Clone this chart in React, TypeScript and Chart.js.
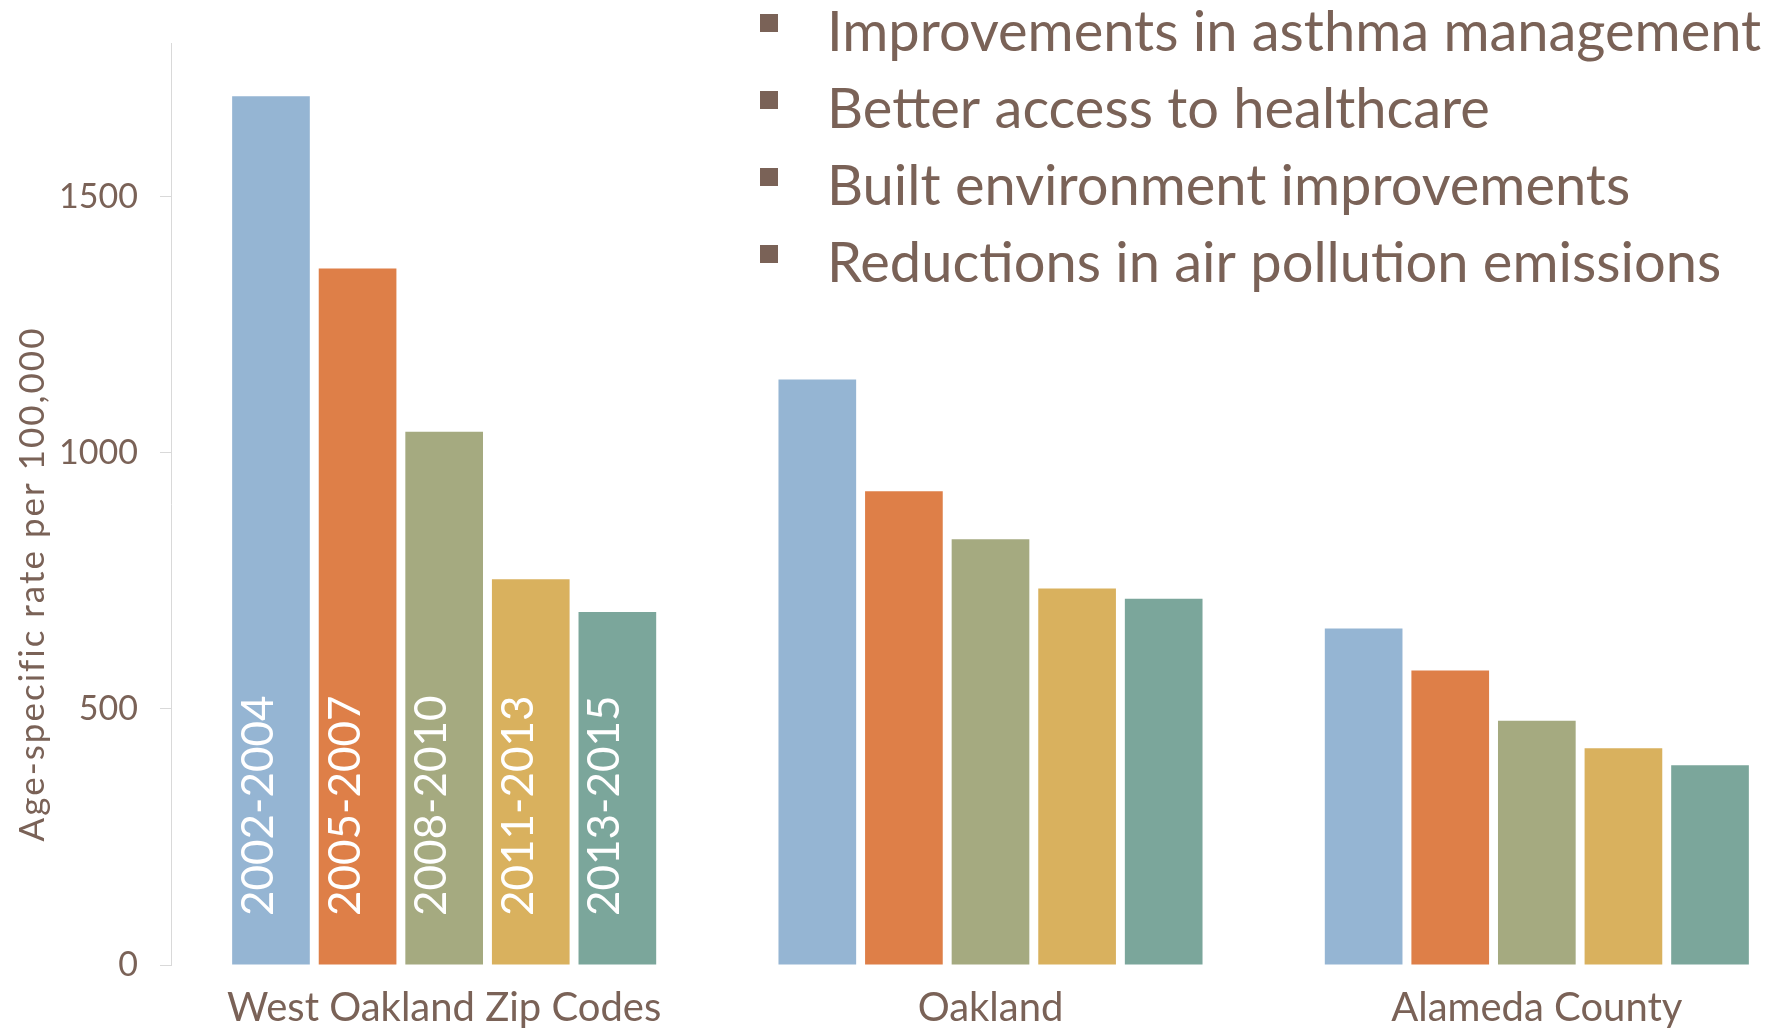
import React, { useEffect, useRef } from "react";
import { Chart, registerables } from "chart.js";

Chart.register(...registerables);

const categories = ["West Oakland Zip Codes", "Oakland", "Alameda County"];
const periods = ["2002-2004", "2005-2007", "2008-2010", "2011-2013", "2013-2015"];
const rates2002_2004 = [1696, 1143, 657];
const rates2005_2007 = [1360, 925, 575];
const rates2008_2010 = [1041, 831, 477];
const rates2011_2013 = [753, 735, 423];
const rates2013_2015 = [689, 715, 390];
const yTickValues = [0, 500, 1000, 1500];
const yMax = 1800;
const yTitle = "Age-specific rate per 100,000";
const bulletPoints = [
  "Improvements in asthma management",
  "Better access to healthcare",
  "Built environment improvements",
  "Reductions in air pollution emissions",
];

const seriesValues = [rates2002_2004, rates2005_2007, rates2008_2010, rates2011_2013, rates2013_2015];
const barColors = ["#95B5D3", "#DE7F48", "#A5AA80", "#D9B15E", "#7BA69B"];
const textColor = "#7A6257";
const FONT = "Lato, 'Open Sans', sans-serif";

const customText = {
  id: "customText",
  afterDatasetsDraw(chart: any) {
    const ctx = chart.ctx as any;
    const area = chart.chartArea;
    // period labels inside first group bars
    chart.data.datasets.forEach((ds: any, i: number) => {
      const bar = chart.getDatasetMeta(i).data[0];
      if (!bar) return;
      ctx.save();
      ctx.translate(bar.x + 2, area.bottom - 49);
      ctx.rotate(-Math.PI / 2);
      ctx.fillStyle = "#FFFFFF";
      ctx.font = `44px ${FONT}`;
      ctx.textAlign = "left";
      ctx.textBaseline = "alphabetic";
      ctx.fillText(ds.label, 0, 0);
      ctx.restore();
    });
    // y axis title
    ctx.save();
    ctx.translate(44, 584);
    ctx.rotate(-Math.PI / 2);
    ctx.fillStyle = textColor;
    ctx.font = `35px ${FONT}`;
    ctx.letterSpacing = "2px";
    ctx.textAlign = "center";
    ctx.textBaseline = "alphabetic";
    ctx.fillText(yTitle, 0, 0);
    ctx.restore();
    // bullet list
    ctx.save();
    ctx.fillStyle = textColor;
    ctx.font = `56px ${FONT}`;
    ctx.textAlign = "left";
    ctx.textBaseline = "alphabetic";
    bulletPoints.forEach((t, i) => {
      const base = 51 + i * 77;
      ctx.fillRect(760, base - 37, 18, 18);
      ctx.fillText(t, 827, base);
    });
    ctx.restore();
  },
};

export default function App() {
  const ref = useRef<HTMLCanvasElement | null>(null);
  useEffect(() => {
    if (!ref.current) return;
    const chart = new Chart(ref.current, {
      type: "bar",
      data: {
        labels: categories,
        datasets: periods.map((p, i) => ({
          label: p,
          data: seriesValues[i],
          backgroundColor: barColors[i],
          borderWidth: 0,
          categoryPercentage: 0.7925,
          barPercentage: 0.897,
        })),
      },
      options: {
        animation: false,
        responsive: true,
        maintainAspectRatio: false,
        layout: { padding: { top: 43, right: 20, left: 0, bottom: 0 } },
        plugins: {
          legend: { display: false },
          tooltip: { enabled: false },
          title: { display: false },
        },
        scales: {
          x: {
            type: "category",
            grid: { display: false, drawTicks: false },
            border: { display: false },
            ticks: {
              color: textColor,
              font: { family: FONT, size: 40 },
              padding: 19,
              maxRotation: 0,
              autoSkip: false,
            },
            afterFit: (s: any) => {
              s.height = 67;
            },
          },
          y: {
            min: 0,
            max: yMax,
            grid: {
              display: true,
              drawOnChartArea: false,
              drawTicks: true,
              tickLength: 11,
              color: "#D9D9D9",
            },
            border: { display: true, color: "#D9D9D9", width: 1 },
            ticks: {
              stepSize: 500,
              color: textColor,
              font: { family: FONT, size: 34 },
              padding: 22,
              callback: (v: any) => String(v),
            },
            afterBuildTicks: (s: any) => {
              s.ticks = yTickValues.map((v) => ({ value: v }));
            },
            afterFit: (s: any) => {
              s.width = 171;
            },
          },
        },
      },
      plugins: [customText],
    });
    return () => chart.destroy();
  }, []);

  return (
    <div style={{ position: "absolute", left: 0, top: 0, width: 1790, height: 1032, overflow: "hidden", background: "#fff" }}>
      <div style={{ position: "relative", width: 1830, height: 1032 }}>
        <canvas ref={ref} />
      </div>
    </div>
  );
}
